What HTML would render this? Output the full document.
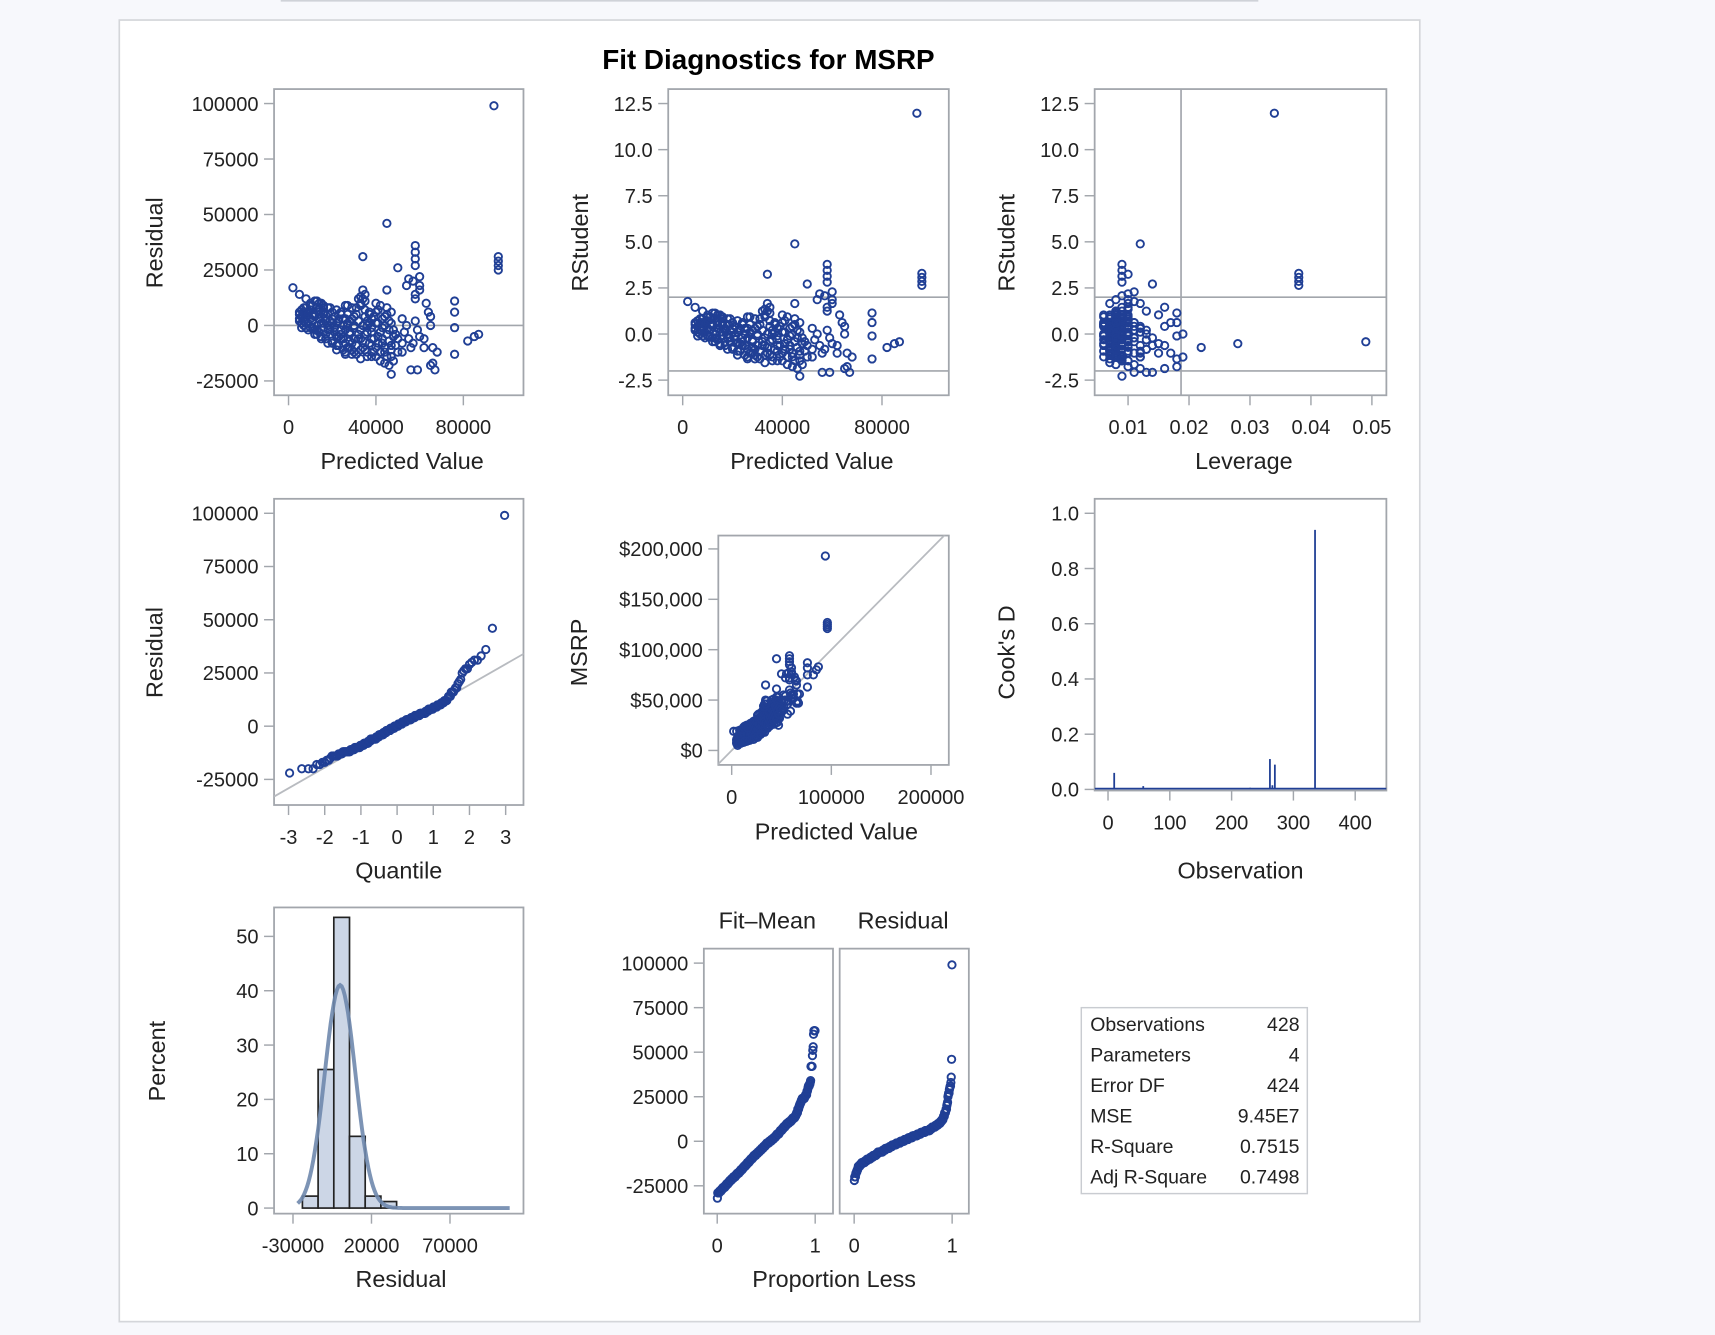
<!DOCTYPE html>
<html><head><meta charset="utf-8">
<style>
html,body{margin:0;padding:0;background:#f7f8fc;}
svg{display:block;font-family:"Liberation Sans",sans-serif;}
</style></head>
<body>
<svg id="chart" width="1715" height="1335" viewBox="0 0 1540 1199" xmlns="http://www.w3.org/2000/svg">
<line x1="252" y1="0" x2="1130" y2="0" stroke="#cfd2d8" stroke-width="3"/>
<rect x="107" y="18" width="1168" height="1169" fill="#ffffff" stroke="#d4d6da" stroke-width="1.5"/>
<text x="690" y="62" text-anchor="middle" font-size="25" font-weight="bold" fill="#000">Fit Diagnostics for MSRP</text>
</svg>
<script>
// ---- data (thousands of dollars) ----
const predictedK = [94,45,34,58,58,58,58,96,96,96,96,50,55,57,60,54,60,60,58,58,45,76,76,76,76,82,85,87,2,5,8,34,63,64,65,65,58,59,56,62,66,68,65,67,66,56,59,47,46,44,42,33,36,30,25,22,20,15,12,9,6,5,5,7,10,13,15,18,20,24,27,30,32,33,35,38,40,42,44,46,48,50,52,50,47,44,40,37,35,32,28,26,24,21,18,16,14,12,10,8,7,9,11,13,17,19,22,25,28,30,33,36,38,41,43,45,39,34,29,23,27,31,41,43,47,49,53,55,52,48,38,14,16,20,26,31,36,45,47,52,54,60,62,57,6,8,11,14,17,21,24,28,31,35,38,42,44,27,23,19,33,37,40,29,26,16];
const residualK  = [99,46,31,36,33,30,27,31,29,27,25,26,21,20,22,18,18,16,12,14,16,11,6,-1,-13,-7,-5,-4,17,14,12,16,10,6,4,0,2,-2,-10,-10,-10,-12,-18,-20,-17,-20,-20,-22,-18,-17,-16,-15,-14,-12,-11,-9,-8,-6,-4,-2,1,3,6,8,9,11,10,8,6,5,9,4,12,13,7,3,6,9,4,2,-2,-6,-8,-12,-14,-12,-10,-8,-4,-6,-4,-2,-6,-3,-2,1,3,5,3,4,2,6,-1,-2,-4,2,1,0,2,-1,-2,0,-3,-5,-8,-4,-12,-10,-8,-5,-10,-13,1,-1,-9,-4,-3,-6,-12,-16,-14,7,5,3,3,8,2,8,6,3,0,-5,-6,-8,4,6,5,6,2,-1,-4,-7,-9,-11,-6,-3,-10,1,3,-2,-6,5,10,-11,-13,8];
const leverage   = [.034,.012,.010,.009,.009,.009,.009,.038,.038,.038,.038,.014,.010,.009,.011,.008,.010,.012,.013,.016,.007,.018,.018,.018,.018,.022,.028,.049,.011,.009,.008,.010,.015,.017,.016,.019,.013,.014,.012,.017,.015,.019,.016,.013,.018,.014,.011,.009,.012,.010,.008,.007,.009,.008,.007,.007,.008,.009,.010,.011,.012,.012,.011,.010,.009,.008,.008,.007,.007,.007,.008,.007,.009,.010,.008,.007,.008,.009,.010,.011,.011,.012,.013,.012,.010,.009,.008,.008,.007,.008,.007,.007,.008,.008,.007,.008,.009,.009,.010,.011,.011,.010,.009,.008,.008,.007,.007,.007,.007,.008,.008,.008,.008,.009,.009,.010,.009,.008,.007,.007,.008,.009,.010,.010,.012,.011,.013,.014,.012,.011,.009,.009,.008,.007,.007,.008,.008,.010,.011,.012,.013,.015,.016,.013,.012,.010,.009,.009,.008,.007,.007,.007,.008,.008,.009,.010,.011,.007,.007,.008,.008,.009,.009,.007,.007,.009];
const blobPredK  = [5,5,6,6,7,7,8,8,9,9,10,10,11,11,12,12,13,13,14,14,15,15,16,16,17,17,18,18,19,19,20,20,21,21,22,22,23,23,24,24,25,25,26,26,27,27,28,28,29,29,30,30,31,31,32,32,33,33,34,34,35,35,36,36,37,37,38,38,39,39,40,40,41,41,42,42,43,43,44,44,45,45,46,46,47,47,48,49,10,12,14,16,6,8,13,18,22,26,29,33,35,34];
const blobResK   = [5,2,7,4,0,6,3,8,1,5,-1,7,2,9,-2,4,0,8,-3,5,1,-5,9,-1,3,-6,5,0,-4,8,1,-7,4,-1,7,-5,2,-9,-2,6,-6,3,9,-8,0,5,-10,-3,3,8,-6,0,-9,5,2,-4,-11,9,0,-7,4,11,-12,-3,6,1,-9,-1,4,-6,-14,1,-8,7,-3,-12,3,-6,-10,0,-14,5,-7,-2,1,-11,-5,-9,10,11,10,6,-1,-1,-4,-8,-11,-12,-13,10,14,12];
const blobLev    = [.007,.008,.009,.006,.010,.008,.007,.008,.009,.006,.010,.008,.007,.008,.009,.006,.010,.008,.007,.008,.009,.006,.010,.008,.007,.008,.009,.006,.010,.008,.007,.008,.009,.006,.010,.008,.007,.008,.009,.006,.010,.008,.007,.008,.009,.006,.010,.008,.007,.008,.009,.006,.010,.008,.007,.008,.009,.006,.010,.008,.007,.008,.009,.006,.010,.008,.007,.008,.009,.006,.010,.008,.007,.008,.009,.006,.010,.008,.007,.008,.009,.006,.010,.008,.007,.008,.009,.006,.010,.008,.007,.008,.009,.006,.010,.008,.007,.008,.009,.006,.010,.008];
const cookObs    = [10,57,100,150,200,230,262,266,270,300,335,380,420];
const cookD      = [0.06,0.012,0.005,0.005,0.004,0.006,0.11,0.015,0.09,0.004,0.94,0.005,0.004];
const histStartK = [-24,-14,-4,6,16,26];
const histPct    = [2.2,25.5,53.5,13.2,2.2,1.2];
const statLabels = ["Observations","Parameters","Error DF","MSE","R-Square","Adj R-Square"];
const statValues = ["428","4","424","9.45E7","0.7515","0.7498"];
const mse = 9.45e7, nObs = 428, nParm = 4;
const yTicksRes = [-25000,0,25000,50000,75000,100000];
const xTicksPred = [0,40000,80000];
const yTicksRst = [-2.5,0,2.5,5,7.5,10,12.5];
const xTicksLev = [0.01,0.02,0.03,0.04,0.05];
const xTicksQ = [-3,-2,-1,0,1,2,3];
const yTicksMsrp = [0,50000,100000,150000,200000];
const xTicksMsrpPred = [0,100000,200000];
const yTicksCook = [0,0.2,0.4,0.6,0.8,1.0];
const xTicksObs = [0,100,200,300,400];
const yTicksPct = [0,10,20,30,40,50];
const xTicksHist = [-30000,20000,70000];
const yTicksRF = [-25000,0,25000,50000,75000,100000];

const NS = "http://www.w3.org/2000/svg";
const svg = document.getElementById('chart');
const BLUE = "#203f95", GRAY = "#a2a6ac";
function mk(tag, attrs, parent){
  const e = document.createElementNS(NS, tag);
  for (const k in attrs) e.setAttribute(k, attrs[k]);
  (parent || svg).appendChild(e);
  return e;
}
function lin(d0,d1,r0,r1){ return v => r0 + (v-d0)*(r1-r0)/(d1-d0); }
function frame(x0,y0,x1,y1,name){
  const r = mk('rect',{x:x0,y:y0,width:x1-x0,height:y1-y0,fill:'#fff',stroke:GRAY,'stroke-width':1.6});
  
  
}
function yAxis(vals, fmt, yf, x0, name){
  const g = mk('g',{});
  
  
  vals.forEach(v=>{
    const y = yf(v);
    mk('line',{x1:x0-9,y1:y,x2:x0,y2:y,stroke:GRAY,'stroke-width':1.3},g);
    const t = mk('text',{x:x0-14,y:y+6.5,'text-anchor':'end','font-size':18,fill:'#222'},g);
    t.textContent = fmt(v);
    
    
  });
}
function xAxis(vals, fmt, xf, y1, name){
  const g = mk('g',{});
  
  
  vals.forEach(v=>{
    const x = xf(v);
    mk('line',{x1:x,y1:y1,x2:x,y2:y1+9,stroke:GRAY,'stroke-width':1.3},g);
    const t = mk('text',{x:x,y:y1+35,'text-anchor':'middle','font-size':18,fill:'#222'},g);
    t.textContent = fmt(v);
    
    
  });
}
function label(txt,x,y,rot,name){
  const t = mk('text',{x:x,y:y,'text-anchor':'middle','font-size':21,fill:'#222',transform:rot?`rotate(-90 ${x} ${y})`:''});
  t.textContent = txt;
  
  
}
function dot(x,y,g){
  const c = mk('circle',{cx:x,cy:y,r:3.3,fill:'none',stroke:BLUE,'stroke-width':1.7},g);
  
  
}
function clipG(x0,y0,x1,y1,id){
  const cp = mk('clipPath',{id:id});
  mk('rect',{x:x0,y:y0,width:x1-x0,height:y1-y0},cp);
  return mk('g',{'clip-path':`url(#${id})`});
}
const s = Math.sqrt(mse);
const pred = predictedK.concat(blobPredK).map(v=>v*1000);
const res = residualK.concat(blobResK).map(v=>v*1000);
const levAll = leverage.concat(blobLev);
const rstud = res.map((r,i)=>{ const ri = r/(s*Math.sqrt(1-levAll[i])); const dfe = nObs-nParm; return ri*Math.sqrt((dfe-1)/(dfe-ri*ri)); });
const plainFmt = v=>String(v);
const oneDec = v=>v.toFixed(1);

// ---- Panel 1: Residual vs Predicted ----
{
  const xf = lin(0,80000,259,416), yf = lin(0,100000,292.3,93);
  frame(246,80,470,355,'residual-vs-predicted-frame');
  const g = clipG(246,80,470,355,'c1');
   
  mk('line',{x1:246,y1:yf(0),x2:470,y2:yf(0),stroke:GRAY,'stroke-width':1.5},g);
  pred.forEach((p,i)=>dot(xf(p),yf(res[i]),g));
  yAxis(yTicksRes,plainFmt,yf,246,'residual-y-axis');
  xAxis(xTicksPred,plainFmt,xf,355,'predicted-x-axis');
  label('Residual',146,218,true,'y-axis-title');
  label('Predicted Value',361,421,false,'x-axis-title');
}
// ---- Panel 2: RStudent vs Predicted ----
{
  const xf = lin(0,80000,613,792), yf = lin(0,12.5,300,93);
  frame(600,80,852,355,'rstudent-vs-predicted-frame');
  const g = clipG(600,80,852,355,'c2');
   
  [2,-2].forEach(v=>mk('line',{x1:600,y1:yf(v),x2:852,y2:yf(v),stroke:GRAY,'stroke-width':1.5},g));
  pred.forEach((p,i)=>dot(xf(p),yf(rstud[i]),g));
  yAxis(yTicksRst,oneDec,yf,600,'rstudent-y-axis');
  xAxis(xTicksPred,plainFmt,xf,355,'predicted-x-axis');
  label('RStudent',528,218,true,'y-axis-title');
  label('Predicted Value',729,421,false,'x-axis-title');
}
// ---- Panel 3: RStudent vs Leverage ----
{
  const xf = lin(0.01,0.05,1013,1232), yf = lin(0,12.5,300,93);
  frame(983,80,1245,355,'rstudent-vs-leverage-frame');
  const g = clipG(983,80,1245,355,'c3');
   
  [2,-2].forEach(v=>mk('line',{x1:983,y1:yf(v),x2:1245,y2:yf(v),stroke:GRAY,'stroke-width':1.5},g));
  const levCut = 2*nParm/nObs;
  mk('line',{x1:xf(levCut),y1:80,x2:xf(levCut),y2:355,stroke:GRAY,'stroke-width':1.5},g);
  levAll.forEach((h,i)=>dot(xf(h),yf(rstud[i]),g));
  yAxis(yTicksRst,oneDec,yf,983,'rstudent-y-axis');
  xAxis(xTicksLev,v=>v.toFixed(2),xf,355,'leverage-x-axis');
  label('RStudent',911,218,true,'y-axis-title');
  label('Leverage',1117,421,false,'x-axis-title');
}
// ---- Panel 4: Q-Q plot ----
function invNorm(p){const a=[-39.6968302866538,220.946098424521,-275.928510446969,138.357751867269,-30.6647980661472,2.50662827745924];const b=[-54.4760987982241,161.585836858041,-155.698979859887,66.8013118877197,-13.2806815528857];const c=[-0.00778489400243029,-0.322396458041136,-2.40075827716184,-2.54973253934373,4.37466414146497,2.93816398269878];const d=[0.00778469570904146,0.32246712907004,2.445134137143,3.75440866190742];const pl=0.02425;let q,r;if(p<pl){q=Math.sqrt(-2*Math.log(p));return(((((c[0]*q+c[1])*q+c[2])*q+c[3])*q+c[4])*q+c[5])/((((d[0]*q+d[1])*q+d[2])*q+d[3])*q+1);}if(p>1-pl){q=Math.sqrt(-2*Math.log(1-p));return-(((((c[0]*q+c[1])*q+c[2])*q+c[3])*q+c[4])*q+c[5])/((((d[0]*q+d[1])*q+d[2])*q+d[3])*q+1);}q=p-0.5;r=q*q;return(((((a[0]*r+a[1])*r+a[2])*r+a[3])*r+a[4])*r+a[5])*q/(((((b[0]*r+b[1])*r+b[2])*r+b[3])*r+b[4])*r+1);}
{
  const xf = lin(0,3,356.5,454), yf = lin(0,100000,652.2,461);
  frame(246,448,470,723,'qq-plot-frame');
  const g = clipG(246,448,470,723,'c4');
   
  const q0 = -3.4, q1 = 3.5;
  mk('line',{x1:xf(q0),y1:yf(q0*s),x2:xf(q1),y2:yf(q1*s),stroke:'#b8bbc0','stroke-width':1.6},g);
  const sorted = res.slice().sort((a,b)=>a-b), n = sorted.length;
  sorted.forEach((r,i)=>dot(xf(invNorm((i+1-0.375)/(n+0.25))*1.05),yf(r),g));
  yAxis(yTicksRes,plainFmt,yf,246,'residual-y-axis');
  xAxis(xTicksQ,plainFmt,xf,723,'quantile-x-axis');
  label('Residual',146,586,true,'y-axis-title');
  label('Quantile',358,789,false,'x-axis-title');
}
// ---- Panel 5: MSRP vs Predicted ----
{
  const xf = lin(0,100000,657,746.5), yf = lin(0,100000,674,583.5);
  frame(645,481,852,687,'msrp-vs-predicted-frame');
  const g = clipG(645,481,852,687,'c5');
   
  mk('line',{x1:xf(-20000),y1:yf(-20000),x2:xf(240000),y2:yf(240000),stroke:'#b8bbc0','stroke-width':1.6},g);
  pred.forEach((p,i)=>dot(xf(p),yf(p+res[i]),g));
  yAxis(yTicksMsrp,v=>'$'+v.toLocaleString('en-US'),yf,645,'msrp-y-axis');
  xAxis(xTicksMsrpPred,plainFmt,xf,687,'predicted-x-axis');
  label('MSRP',527,586,true,'y-axis-title');
  label('Predicted Value',751,754,false,'x-axis-title');
}
// ---- Panel 6: Cook's D ----
{
  const xf = lin(0,100,995,1050.5), yf = lin(0,1,709,461);
  frame(983,448,1245,710,'cooks-d-frame');
  const g = clipG(983,448,1245,710,'c6');
   
  mk('line',{x1:983,y1:yf(0.003),x2:1245,y2:yf(0.003),stroke:BLUE,'stroke-width':1.6},g);
  cookObs.forEach((o,i)=>{
    const l = mk('line',{x1:xf(o),y1:yf(0),x2:xf(o),y2:yf(cookD[i]),stroke:BLUE,'stroke-width':1.6},g);
    
    
  });
  yAxis(yTicksCook,oneDec,yf,983,'cooks-d-y-axis');
  xAxis(xTicksObs,plainFmt,xf,710,'observation-x-axis');
  label("Cook's D",911,586,true,'y-axis-title');
  label('Observation',1114,789,false,'x-axis-title');
}
// ---- Panel 7: Histogram ----
{
  const xf = lin(-30000,20000,263,333.5), yf = lin(0,50,1085,841);
  frame(246,815,470,1090,'residual-histogram-frame');
  const g = mk('g',{});
   
  histStartK.forEach((b,i)=>{
    const x0 = xf(b*1000), x1 = xf(b*1000+10000);
    const r = mk('rect',{x:x0,y:yf(histPct[i]),width:x1-x0,height:yf(0)-yf(histPct[i]),fill:'#ccd6e6',stroke:'#222','stroke-width':1.5},g);
    
    
  });
  let pts = [];
  for (let v=-27000; v<=108000; v+=1000){
    const dens = 10000/(s*Math.sqrt(2*Math.PI))*Math.exp(-v*v/(2*s*s))*100;
    pts.push(xf(v).toFixed(1)+','+yf(dens).toFixed(1));
  }
  const c = mk('polyline',{points:pts.join(' '),fill:'none',stroke:'#6f88ad','stroke-width':3.5,'stroke-opacity':0.9});
  
  
  yAxis(yTicksPct,plainFmt,yf,246,'percent-y-axis');
  xAxis(xTicksHist,plainFmt,xf,1090,'residual-x-axis');
  label('Percent',148,953,true,'y-axis-title');
  label('Residual',360,1156,false,'x-axis-title');
}
// ---- Panel 8: Residual-Fit spread ----
{
  const yf = lin(0,100000,1025,865);
  const xl = lin(0,1,644,732), xr = lin(0,1,767,855);
  frame(632,852,748,1090,'fit-mean-frame');
  frame(754,852,870,1090,'residual-spread-frame');
  const meanP = pred.reduce((a,b)=>a+b,0)/pred.length;
  const fm = pred.map(p=>p-meanP).sort((a,b)=>a-b);
  const rs = res.slice().sort((a,b)=>a-b);
  const gl = mk('g',{});
   
  fm.forEach((v,i)=>dot(xl((i+0.5)/fm.length),yf(v),gl));
  const gr = mk('g',{});
   
  rs.forEach((v,i)=>dot(xr((i+0.5)/rs.length),yf(v),gr));
  yAxis(yTicksRF,plainFmt,yf,632,'spread-y-axis');
  xAxis([0,1],plainFmt,xl,1090,'proportion-x-axis-left');
  xAxis([0,1],plainFmt,xr,1090,'proportion-x-axis-right');
  label('Fit–Mean',689,834,false,'fit-mean-header');
  label('Residual',811,834,false,'residual-header');
  label('Proportion Less',749,1156,false,'x-axis-title');
}
// ---- Stats table ----
{
  const g = mk('g',{});
   
  mk('rect',{x:971,y:905,width:203,height:167,fill:'#fff',stroke:'#c9ccd1','stroke-width':1.3},g);
  statLabels.forEach((l,i)=>{
    const y = 926 + i*27.4;
    const t = mk('text',{x:979,y:y,'font-size':17.5,fill:'#222'},g);
    t.textContent = l;
    
    
    const v = mk('text',{x:1167,y:y,'font-size':17.5,fill:'#222','text-anchor':'end'},g);
    v.textContent = statValues[i];
    
    
  });
}
</script>
</body></html>
